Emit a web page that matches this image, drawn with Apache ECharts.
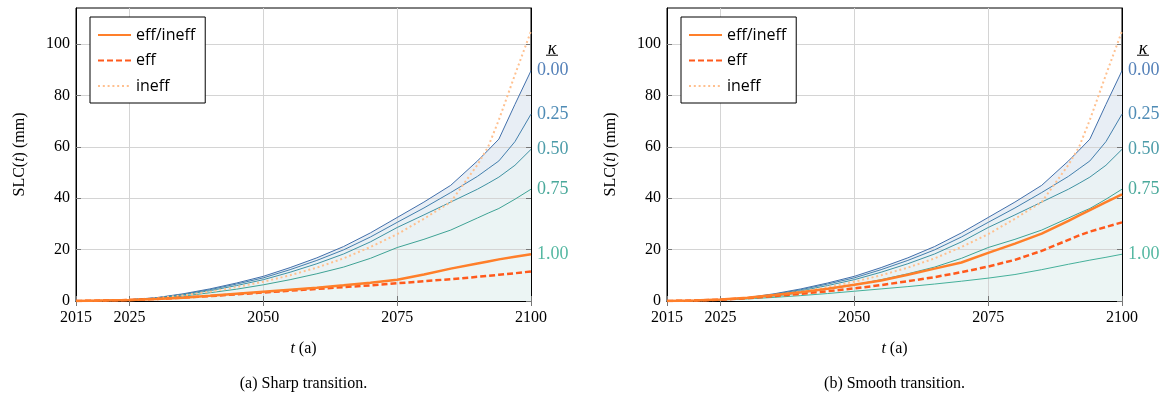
<!DOCTYPE html>
<html><head><meta charset="utf-8">
<script src="https://cdn.jsdelivr.net/npm/echarts@6/dist/echarts.min.js"></script>
<style>html,body{margin:0;padding:0;background:#fff}#c{width:1172px;height:396px}</style>
</head><body><div id="c"></div>
<script>
// ---- data ----
const years = [2015,2020,2025,2030,2035,2040,2045,2050,2055,2060,2065,2070,2075,2080,2085,2090,2092,2094,2097,2100];
const kappa000 = [0,0.2,0.5,1.3,2.8,4.7,7.0,9.6,13.0,16.8,21.2,26.5,32.5,38.5,45.0,54.5,58.7,63.0,76.5,89.6];
const kappa025 = [0,0.2,0.5,1.2,2.6,4.4,6.6,9.0,12.2,15.8,19.9,24.9,30.6,36.2,42.2,48.5,51.5,54.5,62.0,72.7];
const kappa050 = [0,0.2,0.5,1.1,2.4,4.0,6.0,8.3,11.2,14.5,18.3,23.0,28.6,33.5,38.5,43.5,45.8,48.2,52.8,59.0];
const kappa075 = [0,0.2,0.5,1.0,1.9,3.2,4.6,6.3,8.3,10.6,13.2,16.6,20.8,24.0,27.6,32.3,34.2,36.0,39.6,43.5];
const ineff    = [0,0.2,0.5,1.1,2.2,3.6,5.4,7.5,10.0,13.0,16.6,21.0,26.0,32.0,38.5,53.0,60.0,70.5,88.0,105.0];
// (a) sharp transition
const sharpKappa100 = [0,0.2,0.4,0.8,1.3,2.0,2.8,3.6,4.4,5.2,6.1,7.1,8.3,10.3,12.6,14.6,15.4,16.2,17.2,18.2];
const sharpEffIneff = [0,0.2,0.4,0.8,1.3,2.0,2.8,3.6,4.4,5.2,6.1,7.1,8.3,10.3,12.6,14.6,15.4,16.2,17.2,18.2];
const sharpEff      = [0,0.2,0.4,0.8,1.3,1.9,2.6,3.3,4.0,4.7,5.4,6.1,6.9,7.7,8.5,9.4,9.8,10.2,10.8,11.5];
// (b) smooth transition
const smoothKappa100 = [0,0.2,0.4,0.8,1.4,2.1,2.9,3.8,4.7,5.6,6.6,7.7,8.9,10.3,12.2,14.3,15.1,15.9,17.0,18.2];
const smoothEffIneff = [0,0.2,0.6,1.3,2.3,3.4,4.8,6.3,8.0,10.2,12.6,15.0,18.7,22.3,26.2,31.2,33.3,35.4,38.5,41.5];
const smoothEff      = [0,0.2,0.5,1.1,1.9,2.8,3.8,4.9,6.2,7.7,9.3,11.2,13.4,16.0,19.5,23.8,25.5,27.0,28.8,30.6];
// ticks / labels
const xTicks = [2015,2025,2050,2075,2100];
const yTicks = [0,20,40,60,80,100];
const kappaLabels = ['0.00','0.25','0.50','0.75','1.00'];
const legendNames = ['eff/ineff','eff','ineff'];
const captions = ['(a) Sharp transition.','(b) Smooth transition.'];

// ---- styles ----
const SERIF = "'Liberation Serif','DejaVu Serif',serif";
const SANS = "'Open Sans','Noto Sans',sans-serif";
const kColors = ['#4270ab','#437fac','#3f92a2','#3ea294','#45b09a'];
const kLabelColors = ['#5480b8','#4e8bb5','#4d9ca9','#4aa99b','#55b8a2'];
const fillColors = ['#e8eef5','#e9f0f5','#eaf2f4','#ebf4f4','#ecf5f4'];
const grids = [{left:76, top:8, width:455, height:293},{left:667, top:8, width:455, height:293}];

const pair = arr => years.map((y,i)=>[y,arr[i]]);

const xAxes = [], yAxes = [], series = [], legends = [];
const panels = [
  {k1: sharpKappa100, solid: sharpEffIneff, eff: sharpEff},
  {k1: smoothKappa100, solid: smoothEffIneff, eff: smoothEff}
];
const fmt = v => String(v);
panels.forEach((p, g) => {
  xAxes.push({
    type:'value', gridIndex:g, min:2015, max:2100, position:'bottom', z:2,
    name:'{i|t} (a)', nameLocation:'middle', nameGap:40,
    nameTextStyle:{fontFamily:SERIF, fontSize:16, color:'#000', rich:{i:{fontFamily:SERIF, fontStyle:'italic', fontSize:16, color:'#000'}}},
    axisLine:{show:true, lineStyle:{color:'#000', width:1}},
    axisTick:{show:true, inside:true, length:5, customValues:xTicks, lineStyle:{color:'#777'}},
    axisLabel:{customValues:xTicks, formatter:fmt, fontFamily:SERIF, fontSize:16, color:'#000', margin:9},
    splitLine:{show:true, lineStyle:{color:'#d4d4d4', width:1}}
  });
  xAxes.push({
    type:'value', gridIndex:g, min:2015, max:2100, position:'top', z:2,
    axisLine:{show:true, lineStyle:{color:'#000', width:1}},
    axisTick:{show:true, inside:true, length:5, customValues:xTicks, lineStyle:{color:'#777'}},
    axisLabel:{show:false}, splitLine:{show:false}
  });
  yAxes.push({
    type:'value', gridIndex:g, min:0, max:114, position:'left', z:2,
    name:'SLC({i|t}) (mm)', nameLocation:'middle', nameGap:48, nameRotate:90,
    nameTextStyle:{fontFamily:SERIF, fontSize:16, color:'#000', rich:{i:{fontFamily:SERIF, fontStyle:'italic', fontSize:16, color:'#000'}}},
    axisLine:{show:true, lineStyle:{color:'#000', width:1}},
    axisTick:{show:true, inside:true, length:5, customValues:yTicks, lineStyle:{color:'#777'}},
    axisLabel:{customValues:yTicks, formatter:fmt, fontFamily:SERIF, fontSize:16, color:'#000', margin:6},
    splitLine:{show:true, lineStyle:{color:'#d4d4d4', width:1}}
  });
  yAxes.push({
    type:'value', gridIndex:g, min:0, max:114, position:'right', z:2,
    axisLine:{show:true, lineStyle:{color:'#000', width:1}},
    axisTick:{show:true, inside:true, length:5, customValues:yTicks, lineStyle:{color:'#777'}},
    axisLabel:{show:false}, splitLine:{show:false}
  });
  const xi = g*2, yi = g*2;
  const kappas = [kappa000, kappa025, kappa050, kappa075, p.k1];
  // shaded bands: each kappa curve filled down to zero, drawn top curve first
  kappas.forEach((k, j) => {
    series.push({
      type:'line', name:'fill'+g+j, xAxisIndex:xi, yAxisIndex:yi, z:1,
      data: pair(k), symbol:'none', silent:true,
      lineStyle:{width:0, opacity:0}, areaStyle:{color:fillColors[j], opacity:1}
    });
  });
  kappas.forEach((k, j) => {
    series.push({
      type:'line', name:'kappa'+g+j, xAxisIndex:xi, yAxisIndex:yi, z:3,
      data: pair(k), symbol:'none', silent:true,
      lineStyle:{color:kColors[j], width:1},
      endLabel:{show:true, formatter:kappaLabels[j], color:kLabelColors[j], fontFamily:SERIF, fontSize:18, distance:6}
    });
  });
  series.push({type:'line', name:'ineff', xAxisIndex:xi, yAxisIndex:yi, z:3, data:pair(ineff), symbol:'none',
    lineStyle:{color:'#ffc08f', width:2, type:[2,2.8]}, itemStyle:{color:'#ffc08f'}});
  series.push({type:'line', name:'eff', xAxisIndex:xi, yAxisIndex:yi, z:3, data:pair(p.eff), symbol:'none',
    lineStyle:{color:'#ff5a1c', width:2.5, type:[6,3]}, itemStyle:{color:'#ff5a1c'}});
  series.push({type:'line', name:'eff/ineff', xAxisIndex:xi, yAxisIndex:yi, z:3, data:pair(p.solid), symbol:'none',
    lineStyle:{color:'#ff7f2a', width:2.5}, itemStyle:{color:'#ff7f2a'}});
  legends.push({
    data: legendNames, orient:'vertical', left: grids[g].left + 14, top: 17, z:5,
    itemWidth:33, itemHeight:14, itemGap:9.5, padding:[10,10,9,7],
    borderColor:'#000', borderWidth:1, backgroundColor:'#fff', selectedMode:false,
    itemStyle:{opacity:0},
    textStyle:{fontFamily:SANS, fontSize:16, color:'#000'}
  });
});

const chart = echarts.init(document.getElementById('c'), null, {renderer:'canvas'});
chart.setOption({
  animation:false,
  grid: grids.map(g=>Object.assign({show:true, borderColor:'#000', borderWidth:1, backgroundColor:'transparent'}, g)),
  xAxis:xAxes, yAxis:yAxes, legend:legends, series:series
});

// kappa header + captions positioned through the library's scales
const graphics = [];
panels.forEach((p, g) => {
  const end = chart.convertToPixel({xAxisIndex:g*2, yAxisIndex:g*2}, [years[years.length-1], kappa000[kappa000.length-1]]);
  graphics.push({type:'text', x:end[0]+21, y:end[1]-21, style:{text:'κ', font:"italic 18px 'Liberation Serif'", fill:'#000', align:'center', verticalAlign:'middle'}});
  graphics.push({type:'line', shape:{x1:end[0]+15, y1:end[1]-15.5, x2:end[0]+27, y2:end[1]-15.5}, style:{stroke:'#000', lineWidth:1}});
  const mid = chart.convertToPixel({xAxisIndex:g*2, yAxisIndex:g*2}, [(2015+2100)/2, 0]);
  graphics.push({type:'text', x:mid[0], y:mid[1]+83, style:{text:captions[g], font:"16px 'Liberation Serif'", fill:'#000', align:'center', verticalAlign:'middle'}});
});
chart.setOption({graphic:graphics});
</script>
</body></html>
